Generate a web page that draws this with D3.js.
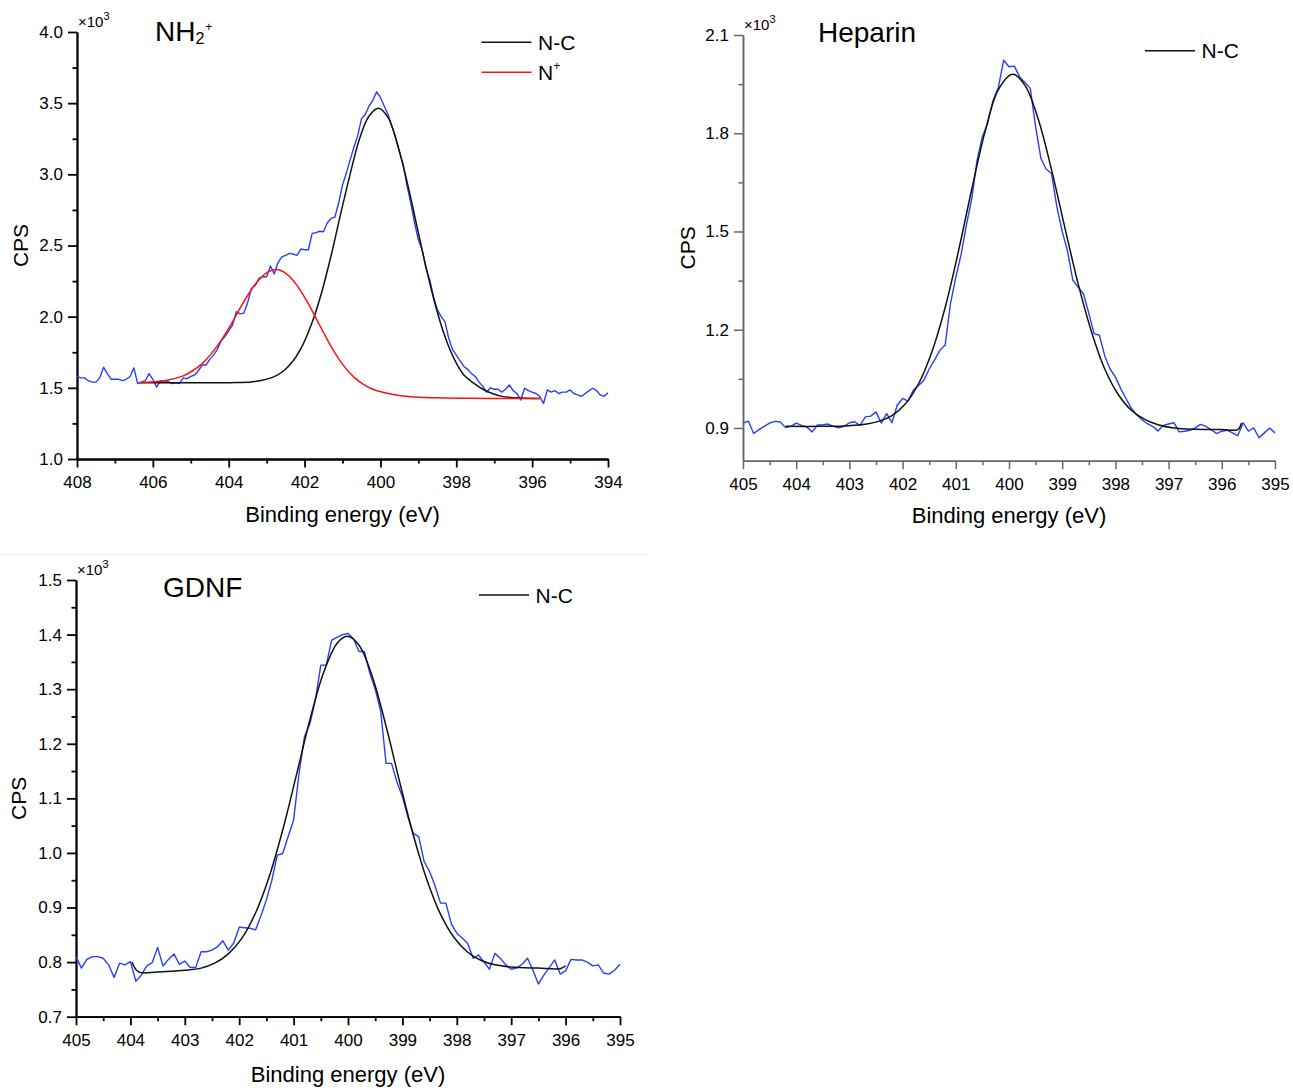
<!DOCTYPE html>
<html>
<head>
<meta charset="utf-8">
<script src="https://cdn.jsdelivr.net/npm/d3@7"></script>
<style>
  body { margin: 0; background: #fff; }
  svg { display: block; }
  text { font-family: Arial, "Liberation Sans", sans-serif; fill: #000; }
</style>
</head>
<body>
<svg width="1293" height="1088"></svg>
<script>
var svg = d3.select("svg");

// ---- data (binding energy eV, CPS x10^3) ----
var nh2Blue = [
  [408.0,1.58],[407.9,1.57],[407.8,1.57],[407.7,1.55],[407.6,1.54],[407.5,1.54],[407.4,1.57],[407.3,1.645],
  [407.2,1.60],[407.1,1.56],[407.0,1.56],[406.9,1.56],[406.8,1.55],[406.7,1.56],[406.6,1.58],[406.5,1.64],
  [406.4,1.53],[406.3,1.54],[406.2,1.55],[406.1,1.60],[406.0,1.56],[405.9,1.505],[405.8,1.55],[405.7,1.54],
  [405.6,1.545],[405.5,1.53],[405.4,1.535],[405.3,1.53],[405.2,1.57],[405.1,1.565],[405.0,1.58],[404.9,1.59],
  [404.8,1.62],[404.7,1.66],[404.6,1.66],[404.5,1.70],[404.4,1.73],[404.3,1.77],[404.2,1.83],[404.1,1.86],
  [404.0,1.90],[403.9,1.94],[403.8,2.035],[403.7,2.02],[403.6,2.025],[403.5,2.10],[403.4,2.20],[403.3,2.22],
  [403.2,2.27],[403.1,2.28],[403.0,2.28],[402.9,2.356],[402.8,2.30],[402.7,2.38],[402.6,2.42],[402.5,2.43],
  [402.4,2.445],[402.3,2.44],[402.2,2.43],[402.1,2.475],[402.0,2.47],[401.9,2.47],[401.8,2.585],[401.7,2.59],
  [401.6,2.60],[401.5,2.597],[401.4,2.66],[401.3,2.69],[401.2,2.70],[401.1,2.80],[401.0,2.925],[400.9,3.007],
  [400.8,3.10],[400.7,3.19],[400.6,3.27],[400.5,3.39],[400.4,3.42],[400.3,3.48],[400.2,3.52],[400.1,3.58],
  [400.0,3.54],[399.9,3.48],[399.8,3.42],[399.7,3.34],[399.6,3.26],[399.5,3.16],[399.4,3.066],[399.3,2.92],
  [399.2,2.80],[399.1,2.66],[399.0,2.54],[398.9,2.47],[398.8,2.34],[398.7,2.26],[398.6,2.14],[398.5,2.05],
  [398.4,2.00],[398.3,1.965],[398.2,1.85],[398.1,1.77],[398.0,1.73],[397.9,1.69],[397.8,1.65],[397.7,1.63],
  [397.6,1.60],[397.5,1.58],[397.4,1.54],[397.3,1.51],[397.2,1.47],[397.1,1.50],[397.0,1.49],[396.9,1.49],
  [396.8,1.47],[396.7,1.49],[396.6,1.52],[396.5,1.48],[396.4,1.46],[396.3,1.415],[396.2,1.497],[396.1,1.48],
  [396.0,1.47],[395.9,1.46],[395.8,1.44],[395.7,1.39],[395.6,1.485],[395.5,1.47],[395.4,1.48],[395.3,1.46],
  [395.2,1.47],[395.1,1.47],[395.0,1.485],[394.9,1.46],[394.8,1.45],[394.7,1.44],[394.6,1.46],[394.5,1.48],
  [394.4,1.497],[394.3,1.48],[394.2,1.45],[394.1,1.44],[394.0,1.466]
];
var nh2NC = [
  [406.35,1.535],[405.3,1.535],[404.3,1.535],[403.8,1.537],[403.3,1.545],[402.8,1.579],[402.55,1.62],
  [402.3,1.69],[402.05,1.80],[401.8,1.96],[401.55,2.17],[401.3,2.43],[401.05,2.72],[400.8,3.00],
  [400.55,3.25],[400.3,3.41],[400.05,3.465],[399.8,3.40],[399.55,3.21],[399.3,2.95],[399.05,2.65],
  [398.8,2.35],[398.55,2.08],[398.3,1.86],[398.05,1.70],[397.8,1.59],[397.55,1.535],[397.3,1.49],
  [397.05,1.46],[396.8,1.44],[396.3,1.428],[395.8,1.425]
];
var nh2Nplus = [
  [406.35,1.537],[405.7,1.549],[405.2,1.584],[404.95,1.62],[404.7,1.67],[404.45,1.742],[404.2,1.833],
  [403.95,1.94],[403.7,2.06],[403.45,2.17],[403.2,2.26],[402.95,2.316],[402.7,2.33],[402.45,2.296],
  [402.2,2.22],[401.95,2.114],[401.7,1.99],[401.45,1.863],[401.2,1.746],[400.95,1.649],[400.7,1.575],
  [400.45,1.525],[400.2,1.49],[399.7,1.455],[399.2,1.437],[398.5,1.43],[397.5,1.426],[396.5,1.425],
  [395.8,1.425]
];

var hepBlue = [
  [405.0,0.915],[404.9,0.921],[404.8,0.883],[404.7,0.895],[404.6,0.905],[404.5,0.915],[404.4,0.92],
  [404.3,0.918],[404.2,0.901],[404.1,0.905],[404.0,0.915],[403.9,0.908],[403.8,0.903],[403.7,0.888],
  [403.6,0.909],[403.5,0.91],[403.4,0.912],[403.3,0.905],[403.2,0.90],[403.1,0.905],[403.0,0.916],
  [402.9,0.919],[402.8,0.908],[402.7,0.934],[402.6,0.936],[402.5,0.949],[402.4,0.915],[402.3,0.944],
  [402.2,0.916],[402.1,0.97],[402.0,0.99],[401.9,0.982],[401.8,1.015],[401.7,1.03],[401.6,1.046],
  [401.5,1.08],[401.4,1.107],[401.3,1.137],[401.2,1.153],[401.1,1.28],[401.0,1.36],[400.9,1.43],
  [400.8,1.52],[400.7,1.60],[400.6,1.718],[400.5,1.79],[400.4,1.83],[400.3,1.90],[400.2,1.94],
  [400.1,2.023],[400.0,2.003],[399.9,2.005],[399.8,1.972],[399.7,1.955],[399.6,1.937],[399.5,1.82],
  [399.4,1.723],[399.3,1.69],[399.2,1.677],[399.1,1.575],[399.0,1.50],[398.9,1.44],[398.8,1.351],
  [398.7,1.33],[398.6,1.31],[398.5,1.25],[398.4,1.188],[398.3,1.183],[398.2,1.12],[398.1,1.08],
  [398.0,1.056],[397.9,1.02],[397.8,0.99],[397.7,0.96],[397.6,0.94],[397.5,0.925],[397.4,0.913],
  [397.3,0.905],[397.2,0.891],[397.1,0.908],[397.0,0.912],[396.9,0.916],[396.8,0.888],[396.7,0.89],
  [396.6,0.893],[396.5,0.90],[396.4,0.911],[396.3,0.905],[396.2,0.895],[396.1,0.883],[396.0,0.89],
  [395.9,0.893],[395.8,0.885],[395.7,0.876],[395.6,0.916],[395.5,0.89],[395.4,0.90],[395.3,0.87],
  [395.2,0.885],[395.1,0.90],[395.0,0.885]
];
var hepNC = [
  [404.2,0.905],[403.5,0.905],[403.0,0.907],[402.7,0.911],[402.45,0.92],[402.2,0.938],[401.95,0.973],
  [401.7,1.035],[401.45,1.132],[401.2,1.268],[400.95,1.44],[400.7,1.629],[400.45,1.805],[400.2,1.933],
  [399.93,1.98],[399.7,1.946],[399.45,1.843],[399.2,1.688],[398.95,1.512],[398.7,1.34],[398.45,1.194],
  [398.2,1.08],[397.95,1.003],[397.7,0.954],[397.45,0.926],[397.2,0.91],[396.9,0.90],[396.5,0.896],
  [396.0,0.895],[395.7,0.895],[395.63,0.915]
];

var gdnfBlue = [
  [405.0,0.81],[404.9,0.789],[404.8,0.805],[404.7,0.81],[404.6,0.81],[404.5,0.807],[404.4,0.795],
  [404.3,0.772],[404.2,0.798],[404.1,0.795],[404.0,0.801],[403.9,0.765],[403.8,0.776],[403.7,0.793],
  [403.6,0.799],[403.5,0.827],[403.4,0.793],[403.3,0.805],[403.2,0.815],[403.1,0.796],[403.0,0.802],
  [402.9,0.79],[402.8,0.79],[402.7,0.819],[402.6,0.819],[402.5,0.822],[402.4,0.828],[402.3,0.839],
  [402.2,0.822],[402.1,0.835],[402.0,0.864],[401.9,0.863],[401.8,0.862],[401.7,0.859],[401.6,0.885],
  [401.5,0.914],[401.4,0.95],[401.3,0.996],[401.2,0.999],[401.1,1.03],[401.0,1.06],[400.9,1.146],
  [400.8,1.213],[400.7,1.237],[400.6,1.28],[400.5,1.344],[400.4,1.344],[400.3,1.39],[400.2,1.395],
  [400.1,1.40],[400.0,1.402],[399.9,1.393],[399.8,1.369],[399.7,1.369],[399.6,1.33],[399.5,1.30],
  [399.4,1.26],[399.3,1.164],[399.2,1.164],[399.1,1.13],[399.0,1.103],[398.9,1.066],[398.8,1.036],
  [398.7,1.03],[398.6,0.984],[398.5,0.966],[398.4,0.94],[398.3,0.908],[398.2,0.908],[398.1,0.87],
  [398.0,0.853],[397.9,0.844],[397.8,0.834],[397.7,0.807],[397.6,0.813],[397.5,0.80],[397.4,0.787],
  [397.3,0.816],[397.2,0.807],[397.1,0.795],[397.0,0.787],[396.9,0.789],[396.8,0.796],[396.7,0.807],
  [396.6,0.785],[396.5,0.76],[396.4,0.776],[396.3,0.79],[396.2,0.804],[396.1,0.778],[396.0,0.784],
  [395.9,0.805],[395.8,0.804],[395.7,0.804],[395.6,0.80],[395.5,0.793],[395.4,0.795],[395.3,0.78],
  [395.2,0.778],[395.1,0.785],[395.0,0.796]
];
var gdnfNC = [
  [403.97,0.80],[403.85,0.782],[403.5,0.782],[403.0,0.785],[402.7,0.789],[402.45,0.798],[402.2,0.815],
  [401.95,0.844],[401.7,0.89],[401.45,0.956],[401.2,1.042],[400.95,1.142],[400.7,1.244],[400.45,1.33],
  [400.2,1.384],[400.02,1.397],[399.8,1.381],[399.55,1.322],[399.3,1.232],[399.05,1.13],[398.8,1.033],
  [398.55,0.951],[398.3,0.888],[398.05,0.845],[397.8,0.818],[397.55,0.803],[397.3,0.795],[397.0,0.791],
  [396.5,0.789],[396.1,0.788],[396.0,0.793]
];

// ---- ticks ----
var nh2XMajor = [408, 406, 404, 402, 400, 398, 396, 394];
var nh2XMinor = [407, 405, 403, 401, 399, 397, 395];
var nh2YMajor = [1.0, 1.5, 2.0, 2.5, 3.0, 3.5, 4.0];
var nh2YMinor = [1.25, 1.75, 2.25, 2.75, 3.25, 3.75];

var evMajor = [405, 404, 403, 402, 401, 400, 399, 398, 397, 396, 395];
var evMinor = [404.5, 403.5, 402.5, 401.5, 400.5, 399.5, 398.5, 397.5, 396.5, 395.5];

var hepYMajor = [0.9, 1.2, 1.5, 1.8, 2.1];
var hepYMinor = [1.05, 1.35, 1.65, 1.95];

var gdnfYMajor = [0.7, 0.8, 0.9, 1.0, 1.1, 1.2, 1.3, 1.4, 1.5];
var gdnfYMinor = [0.75, 0.85, 0.95, 1.05, 1.15, 1.25, 1.35, 1.45];

var BLUE = "#2a3ff5", RED = "#ff1010", BLACK = "#111";

// faint separator under the top row
svg.append("line").attr("x1", 0).attr("x2", 648).attr("y1", 554.5).attr("y2", 554.5)
    .attr("stroke", "#efefef").attr("stroke-width", 1);

function drawPanel(p) {
  var x = d3.scaleLinear().domain(p.xDomain).range([p.left, p.right]);
  var y = d3.scaleLinear().domain(p.yDomain).range([p.bottom, p.top]);
  var g = svg.append("g");

  function styleAxis(sel) {
    sel.attr("font-family", null).attr("font-size", null);
    sel.select(".domain").attr("stroke", p.axisColor).attr("stroke-width", p.axisWidth);
    sel.selectAll(".tick line").attr("stroke", p.axisColor).attr("stroke-width", p.axisWidth);
    sel.selectAll(".tick text").style("font-size", "17px").attr("fill", "#111");
  }

  g.append("g").attr("transform", "translate(0," + p.bottom + ")")
      .call(d3.axisBottom(x).tickValues(p.xMinor).tickSize(4.5).tickSizeOuter(0).tickFormat(""))
      .call(styleAxis);
  g.append("g").attr("transform", "translate(0," + p.bottom + ")")
      .call(d3.axisBottom(x).tickValues(p.xMajor).tickSize(8.5).tickPadding(8.5).tickSizeOuter(0)
          .tickFormat(d3.format("d")))
      .call(styleAxis);

  g.append("g").attr("transform", "translate(" + p.left + ",0)")
      .call(d3.axisLeft(y).tickValues(p.yMinor).tickSize(4.5).tickSizeOuter(0).tickFormat(""))
      .call(styleAxis);
  g.append("g").attr("transform", "translate(" + p.left + ",0)")
      .call(d3.axisLeft(y).tickValues(p.yMajor).tickSize(9).tickPadding(5).tickSizeOuter(0)
          .tickFormat(d3.format(".1f")))
      .call(styleAxis);

  var raw = d3.line().x(function(d) { return x(d[0]); }).y(function(d) { return y(d[1]); });
  var smooth = d3.line().curve(d3.curveCatmullRom.alpha(0.5))
      .x(function(d) { return x(d[0]); }).y(function(d) { return y(d[1]); });

  g.append("path").datum(p.blue).attr("d", raw)
      .attr("fill", "none").attr("stroke", BLUE).attr("stroke-width", 1.4).attr("stroke-linejoin", "round");
  p.fits.forEach(function(f) {
    g.append("path").datum(f.data).attr("d", smooth)
        .attr("fill", "none").attr("stroke", f.color).attr("stroke-width", 1.5);
  });

  // axis titles
  g.append("text").attr("transform", "translate(" + p.cpsX + "," + ((p.top + p.bottom) / 2) + ") rotate(-90)")
      .attr("text-anchor", "middle").style("font-size", "21px").text("CPS");
  g.append("text").attr("x", (p.left + p.right) / 2).attr("y", p.xlabelY)
      .attr("text-anchor", "middle").style("font-size", "22px").text("Binding energy (eV)");

  // x10^3 multiplier
  var m = g.append("text").attr("x", p.left + 1).attr("y", p.top - 5).style("font-size", "15px");
  m.append("tspan").text("\u00d710");
  m.append("tspan").attr("dy", -7).style("font-size", "11px").text("3");

  // title
  var t = g.append("text").attr("x", p.titleX).attr("y", p.titleY).style("font-size", "28px");
  p.title.forEach(function(part) {
    var s = t.append("tspan").text(part.t);
    if (part.sub) s.attr("dy", 3).style("font-size", "16px");
    if (part.sup) s.attr("dy", -13).attr("dx", 1).style("font-size", "12px");
  });

  // legend
  p.legend.forEach(function(l, i) {
    var ly = p.legendY + i * 30;
    g.append("line").attr("x1", p.legendX).attr("x2", p.legendX + 50).attr("y1", ly).attr("y2", ly)
        .attr("stroke", l.color).attr("stroke-width", 1.6);
    var lt = g.append("text").attr("x", p.legendX + 56.5).attr("y", ly + 7.5).style("font-size", "21px");
    lt.append("tspan").text(l.label);
    if (l.sup) lt.append("tspan").attr("dy", -10).style("font-size", "12px").text(l.sup);
  });
}

drawPanel({
  xDomain: [408, 394], yDomain: [1, 4], left: 77, right: 608, top: 32, bottom: 459,
  xMajor: nh2XMajor, xMinor: nh2XMinor, yMajor: nh2YMajor, yMinor: nh2YMinor,
  axisColor: "#000", axisWidth: 1.8, cpsX: 28, xlabelY: 522,
  blue: nh2Blue,
  fits: [{ data: nh2NC, color: BLACK }, { data: nh2Nplus, color: RED }],
  title: [{ t: "NH" }, { t: "2", sub: true }, { t: "+", sup: true }], titleX: 155, titleY: 41,
  legend: [{ label: "N-C", color: BLACK }, { label: "N", sup: "+", color: RED }], legendX: 481.5, legendY: 42.3
});

drawPanel({
  xDomain: [405, 395], yDomain: [0.8, 2.1], left: 743, right: 1275, top: 35, bottom: 460.7,
  xMajor: evMajor, xMinor: evMinor, yMajor: hepYMajor, yMinor: hepYMinor,
  axisColor: "#666", axisWidth: 1.5, cpsX: 695, xlabelY: 523,
  blue: hepBlue,
  fits: [{ data: hepNC, color: BLACK }],
  title: [{ t: "Heparin" }], titleX: 818, titleY: 42,
  legend: [{ label: "N-C", color: BLACK }], legendX: 1145, legendY: 50.7
});

drawPanel({
  xDomain: [405, 395], yDomain: [0.7, 1.5], left: 76, right: 620, top: 580, bottom: 1016.7,
  xMajor: evMajor, xMinor: evMinor, yMajor: gdnfYMajor, yMinor: gdnfYMinor,
  axisColor: "#000", axisWidth: 1.8, cpsX: 25.5, xlabelY: 1081.5,
  blue: gdnfBlue,
  fits: [{ data: gdnfNC, color: BLACK }],
  title: [{ t: "GDNF" }], titleX: 163, titleY: 597,
  legend: [{ label: "N-C", color: BLACK }], legendX: 479, legendY: 595
});
</script>
</body>
</html>
